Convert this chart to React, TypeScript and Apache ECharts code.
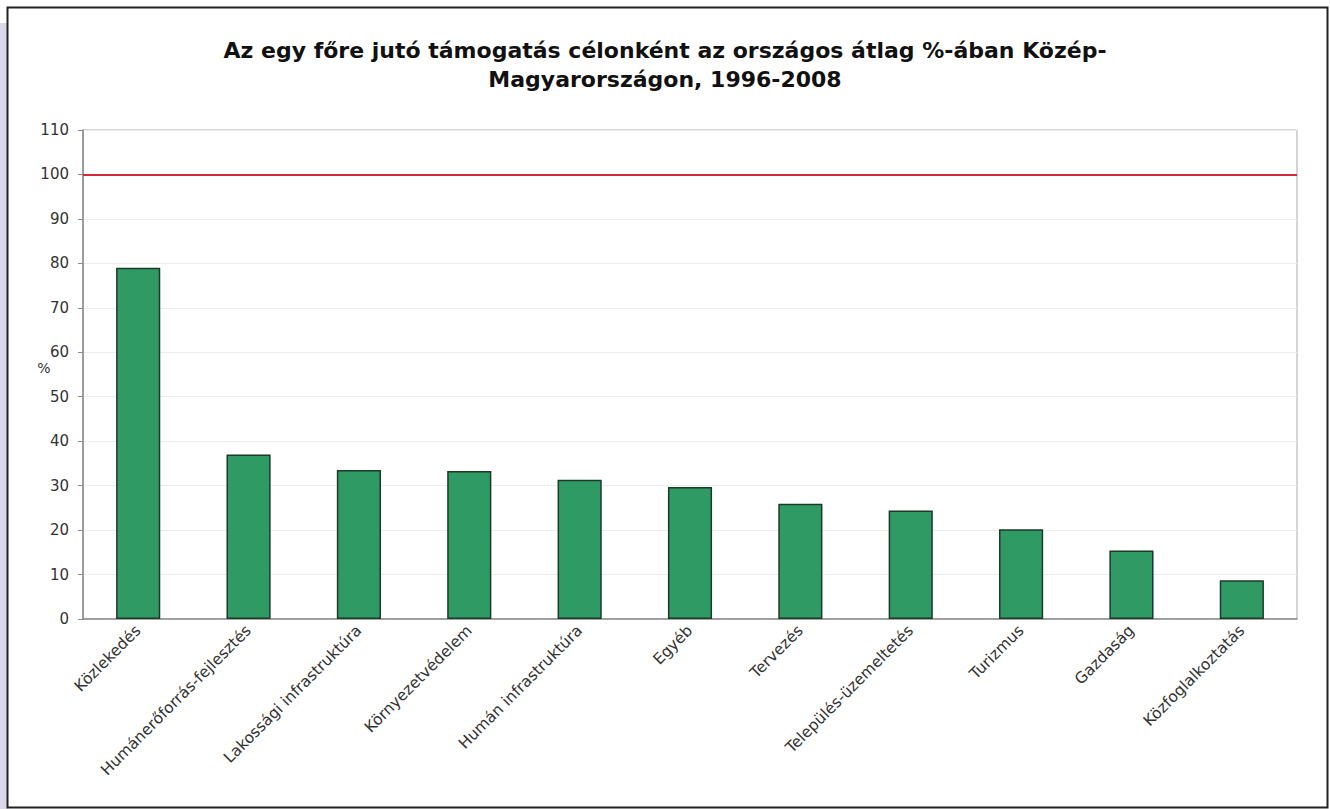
import React, { useEffect, useRef } from "react";
import * as echarts from "echarts";

const titleLines = [
  "Az egy főre jutó támogatás célonként az országos átlag %-ában Közép-",
  "Magyarországon, 1996-2008",
];
const categories = [
  "Közlekedés",
  "Humánerőforrás-fejlesztés",
  "Lakossági infrastruktúra",
  "Környezetvédelem",
  "Humán infrastruktúra",
  "Egyéb",
  "Tervezés",
  "Település-üzemeltetés",
  "Turizmus",
  "Gazdaság",
  "Közfoglalkoztatás",
];
const values = [79.0, 37.0, 33.5, 33.3, 31.3, 29.7, 25.9, 24.4, 20.2, 15.4, 8.7];
const referenceLevel = 100;
const yAxisName = "%";

export default function App() {
  const ref = useRef<HTMLDivElement>(null);
  useEffect(() => {
    if (!ref.current) return;
    const chart = echarts.init(ref.current, undefined, { renderer: "svg" });
    const font = "DejaVu Sans";
    chart.setOption({
      animation: false,
      backgroundColor: "#ffffff",
      title: {
        text: titleLines.join("\n"),
        left: "center",
        top: 31,
        textStyle: {
          fontFamily: font,
          fontWeight: "bold",
          fontSize: 22,
          color: "#111",
          lineHeight: 29,
        },
      },
      graphic: [
        {
          type: "rect",
          shape: { x: 0, y: 23, width: 8, height: 790 },
          style: { fill: "#d9d9e8" },
          silent: true,
        },
        {
          type: "rect",
          shape: { x: 7.5, y: 7.5, width: 1320, height: 800 },
          style: { fill: "none", stroke: "#222", lineWidth: 2 },
          silent: true,
        },
        {
          type: "text",
          x: 44,
          y: 368,
          style: {
            text: yAxisName,
            fontFamily: font,
            fontSize: 14,
            fill: "#333",
            textAlign: "center",
            textVerticalAlign: "middle",
          },
        },
      ],
      grid: {
        left: 83,
        right: 33,
        top: 130,
        bottom: 190,
        show: true,
        borderColor: "#a8a8a8",
        borderWidth: 1,
        containLabel: false,
      },
      xAxis: {
        type: "category",
        data: categories,
        axisLine: { lineStyle: { color: "#8a8a8a", width: 1.5 } },
        axisTick: { show: false },
        axisLabel: {
          interval: 0,
          rotate: 45,
          fontFamily: font,
          fontSize: 15.5,
          color: "#333",
          margin: 9,
        },
      },
      yAxis: {
        type: "value",
        min: 0,
        max: 110,
        interval: 10,
        axisLine: { show: true, lineStyle: { color: "#8a8a8a", width: 1.5 } },
        axisTick: { show: true, inside: false, length: 5, lineStyle: { color: "#8a8a8a" } },
        splitLine: { show: true, lineStyle: { color: "#ececec", width: 1 } },
        axisLabel: {
          fontFamily: font,
          fontSize: 15,
          color: "#333",
          margin: 14,
        },
      },
      series: [
        {
          type: "bar",
          data: values,
          barWidth: "40%",
          itemStyle: {
            color: "#2f9a64",
            borderColor: "#1b3a28",
            borderWidth: 1.5,
          },
          markLine: {
            silent: true,
            symbol: "none",
            label: { show: false },
            lineStyle: { color: "#d2283a", width: 2, type: "solid" },
            data: [{ yAxis: referenceLevel }],
          },
        },
      ],
    });
    return () => chart.dispose();
  }, []);
  return (
    <div
      ref={ref}
      style={{ position: "fixed", left: 0, top: 0, width: 1330, height: 809 }}
    />
  );
}
